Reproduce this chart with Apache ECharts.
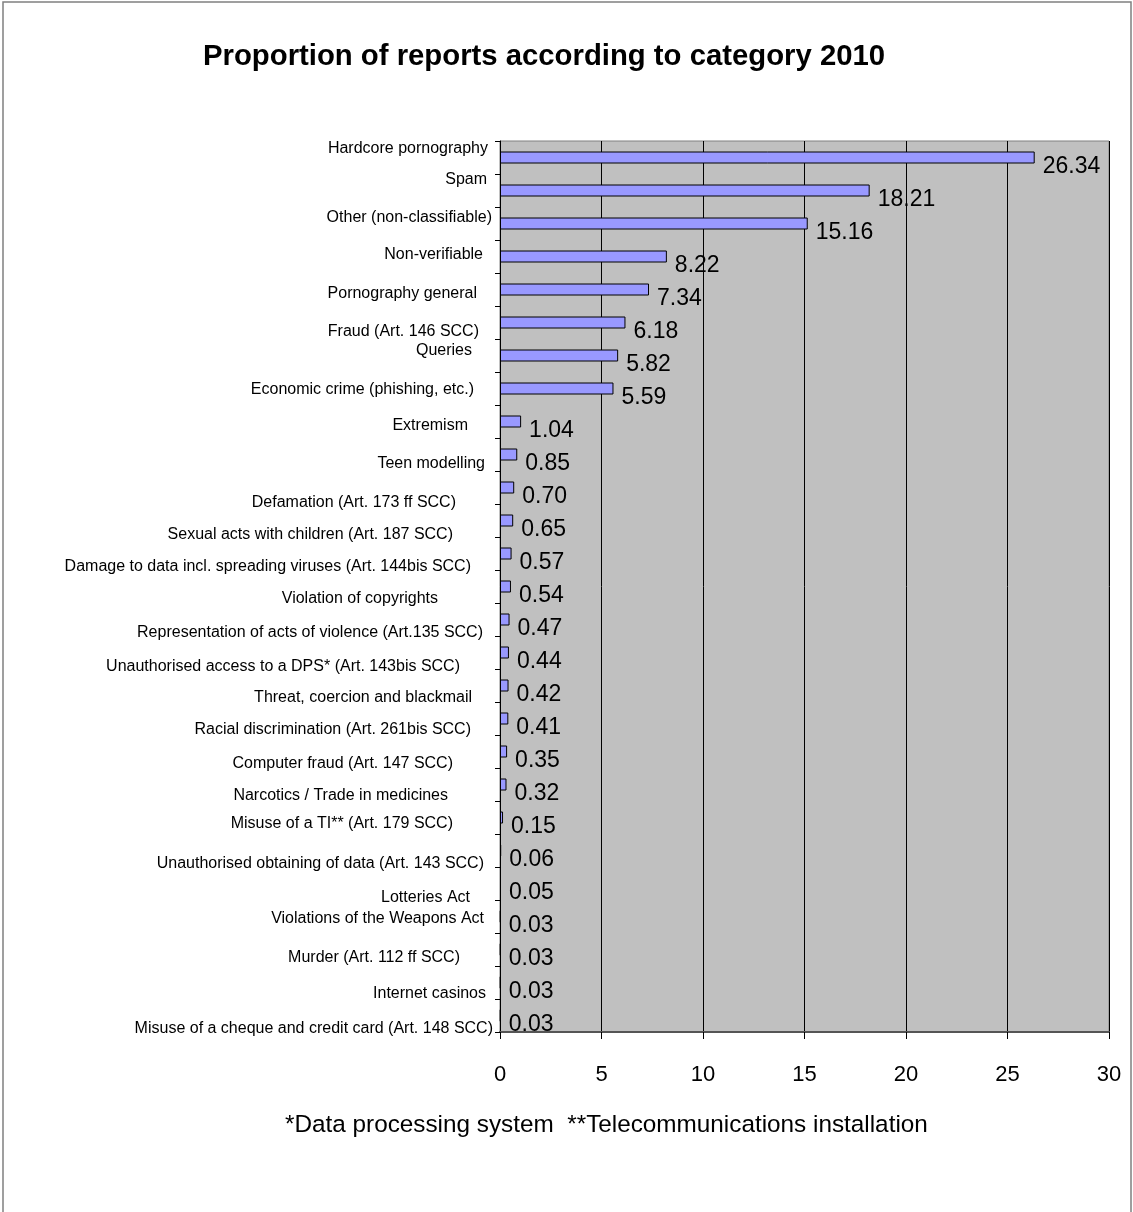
<!DOCTYPE html>
<html>
<head>
<meta charset="utf-8">
<title>Proportion of reports according to category 2010</title>
<script src="https://cdn.jsdelivr.net/npm/echarts@6/dist/echarts.min.js"></script>
<style>
  html, body { margin: 0; padding: 0; background: #ffffff; }
  #chart { width: 1133px; height: 1212px; }
</style>
</head>
<body>
<div id="chart"></div>
<script>
// Report categories, top to bottom
const categories = [
  'Hardcore pornography',
  'Spam',
  'Other (non-classifiable)',
  'Non-verifiable',
  'Pornography general',
  'Fraud (Art. 146 SCC)',
  'Queries',
  'Economic crime (phishing, etc.)',
  'Extremism',
  'Teen modelling',
  'Defamation (Art. 173 ff SCC)',
  'Sexual acts with children (Art. 187 SCC)',
  'Damage to data incl. spreading viruses (Art. 144bis SCC)',
  'Violation of copyrights',
  'Representation of acts of violence (Art.135 SCC)',
  'Unauthorised access to a DPS* (Art. 143bis SCC)',
  'Threat, coercion and blackmail',
  'Racial discrimination (Art. 261bis SCC)',
  'Computer fraud (Art. 147 SCC)',
  'Narcotics / Trade in medicines',
  'Misuse of a TI** (Art. 179 SCC)',
  'Unauthorised obtaining of data (Art. 143 SCC)',
  'Lotteries Act',
  'Violations of the Weapons Act',
  'Murder (Art. 112 ff SCC)',
  'Internet casinos',
  'Misuse of a cheque and credit card (Art. 148 SCC)'
];

// Share of reports in percent
const shares = [
  26.34, 18.21, 15.16, 8.22, 7.34, 6.18, 5.82, 5.59, 1.04, 0.85,
  0.70, 0.65, 0.57, 0.54, 0.47, 0.44, 0.42, 0.41, 0.35, 0.32,
  0.15, 0.06, 0.05, 0.03, 0.03, 0.03, 0.03
];

// Value axis ticks
const xTicks = [0, 5, 10, 15, 20, 25, 30];

// Hand-placed category captions: [shift left, shift down] in px
const captionNudge = [
  [6, -9], [7, -10.5], [2, -6], [11, -1.5], [17, 4],
  [15, 9.5], [22, -5], [20, 1], [26, 4], [9, 9.5],
  [38, 15.5], [41, 14], [23, 13], [56, 12.5], [11, 13],
  [34, 14], [22, 12], [23, 11.5], [41, 12], [46, 11.5],
  [41, 6], [10, 13], [24, 14], [10, 2.5], [34, 8],
  [8, 11.5], [1, 13.5]
];

const FONT = 'Arial, "Liberation Sans", Helvetica, sans-serif';

const rich = {};
captionNudge.forEach(([dx, dy], i) => {
  rich['c' + i] = {
    fontFamily: FONT,
    fontSize: 16,
    color: '#000',
    padding: [dy > 0 ? 2 * dy : 0, dx, dy < 0 ? -2 * dy : 0, 0]
  };
});

const chart = echarts.init(document.getElementById('chart'), null, { renderer: 'canvas' });

chart.setOption({
  backgroundColor: '#ffffff',
  animation: false,
  title: [
    {
      text: 'Proportion of reports according to category 2010',
      left: 198,
      top: 37,
      textStyle: { fontFamily: FONT, fontSize: 29.3, fontWeight: 'bold', color: '#000' }
    },
    {
      text: '*Data processing system  **Telecommunications installation',
      left: 280,
      top: 1108,
      textStyle: { fontFamily: FONT, fontSize: 24.3, fontWeight: 'normal', color: '#000' }
    }
  ],
  graphic: [
    {
      type: 'rect',
      shape: { x: 3, y: 2, width: 1128, height: 1230 },
      style: { fill: null, stroke: '#808080', lineWidth: 1.5 },
      silent: true,
      z: 0
    }
  ],
  grid: {
    left: 500,
    top: 141,
    width: 609,
    height: 891,
    show: true,
    backgroundColor: '#C0C0C0',
    borderColor: '#808080',
    borderWidth: 1,
    containLabel: false,
    outerBoundsMode: 'none'
  },
  xAxis: {
    type: 'value',
    min: xTicks[0],
    max: xTicks[xTicks.length - 1],
    interval: xTicks[1] - xTicks[0],
    axisLine: { show: true, lineStyle: { color: '#555', width: 2 } },
    axisTick: { show: true, inside: false, length: 7, lineStyle: { color: '#000', width: 1 } },
    splitLine: { show: true, lineStyle: { color: '#000', width: 1 } },
    axisLabel: { fontFamily: FONT, fontSize: 22, color: '#000', margin: 32 }
  },
  yAxis: {
    type: 'category',
    inverse: true,
    data: categories,
    axisLine: { show: true, lineStyle: { color: '#000', width: 1 } },
    axisTick: { show: true, inside: false, length: 5, alignWithLabel: false, lineStyle: { color: '#000', width: 1 } },
    splitLine: { show: false },
    axisLabel: {
      interval: 0,
      margin: 6,
      formatter: (value, index) => '{c' + index + '|' + value + '}',
      rich: rich
    }
  },
  series: [
    {
      type: 'bar',
      data: shares,
      barWidth: 12,
      itemStyle: { color: '#9999FF', borderColor: '#000', borderWidth: 1 },
      label: {
        show: true,
        position: 'right',
        distance: 8,
        offset: [0, 9],
        fontFamily: FONT,
        fontSize: 23,
        color: '#000',
        formatter: p => p.value.toFixed(2)
      }
    }
  ]
});
</script>
</body>
</html>
